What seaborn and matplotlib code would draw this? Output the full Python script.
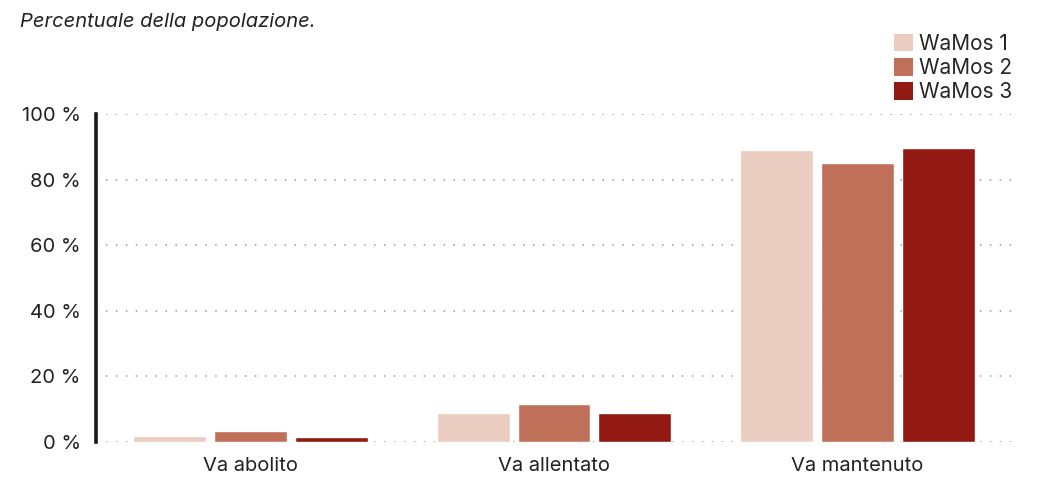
import matplotlib
matplotlib.use("Agg")
import matplotlib.pyplot as plt
import seaborn as sns
import pandas as pd
from matplotlib.patches import Patch

categories = ["Va abolito", "Va allentato", "Va mantenuto"]
series = ["WaMos 1", "WaMos 2", "WaMos 3"]
wamos1 = [1.8, 8.8, 89.0]
wamos2 = [3.4, 11.6, 85.1]
wamos3 = [1.5, 8.8, 89.6]
colors = ["#EBCDC2", "#C07059", "#931A13"]
yticks = [0, 20, 40, 60, 80, 100]
ytick_labels = ["0 %", "20 %", "40 %", "60 %", "80 %", "100 %"]

rows = []
for s, vals in zip(series, [wamos1, wamos2, wamos3]):
    for c, v in zip(categories, vals):
        rows.append({"cat": c, "series": s, "value": v})
df = pd.DataFrame(rows)

sns.set_theme(style="white")
plt.rcParams["font.family"] = ["Inter", "DejaVu Sans"]

fig, ax = plt.subplots(figsize=(10.41, 5.04), dpi=100)
fig.subplots_adjust(left=96/1041, right=1012/1041, top=1-114/504, bottom=1-442/504)

sns.barplot(data=df, x="cat", y="value", hue="series", order=categories,
            hue_order=series, palette=colors, width=0.8, gap=0.1,
            saturation=1, ax=ax, legend=False, zorder=3)

ax.set_ylim(0, 100)
ax.set_xlim(-0.51, 2.51)
ax.set_yticks(yticks)
ax.set_yticklabels(ytick_labels, fontsize=14.5, color="#222222")
ax.tick_params(axis="x", labelsize=14.5, colors="#222222", length=0, pad=11)
ax.tick_params(axis="y", length=0, pad=11)
ax.set_xlabel("")
ax.set_ylabel("")
ax.yaxis.grid(True, linestyle=(0, (1, 5.5)), color="#999999", linewidth=1.1, zorder=0)
ax.xaxis.grid(False)
for side in ["top", "right", "bottom"]:
    ax.spines[side].set_visible(False)
ax.spines["left"].set_color("#1a1a1a")
ax.spines["left"].set_linewidth(2.6)
ax.spines["left"].set_zorder(5)

fig.text(20/1041, 1-22/504, "Percentuale della popolazione.", fontsize=14.5,
         style="italic", color="#222222", ha="left", va="center")

handles = [Patch(facecolor=c, edgecolor="none", label=s) for c, s in zip(colors, series)]
fig.legend(handles=handles, loc="upper right", bbox_to_anchor=(1012/1041, 1-34/504),
           frameon=False, fontsize=15, handlelength=0.9, handleheight=0.9,
           handletextpad=0.3, labelspacing=0.2, borderaxespad=0, borderpad=0)

fig.savefig("out.png", dpi=100)
